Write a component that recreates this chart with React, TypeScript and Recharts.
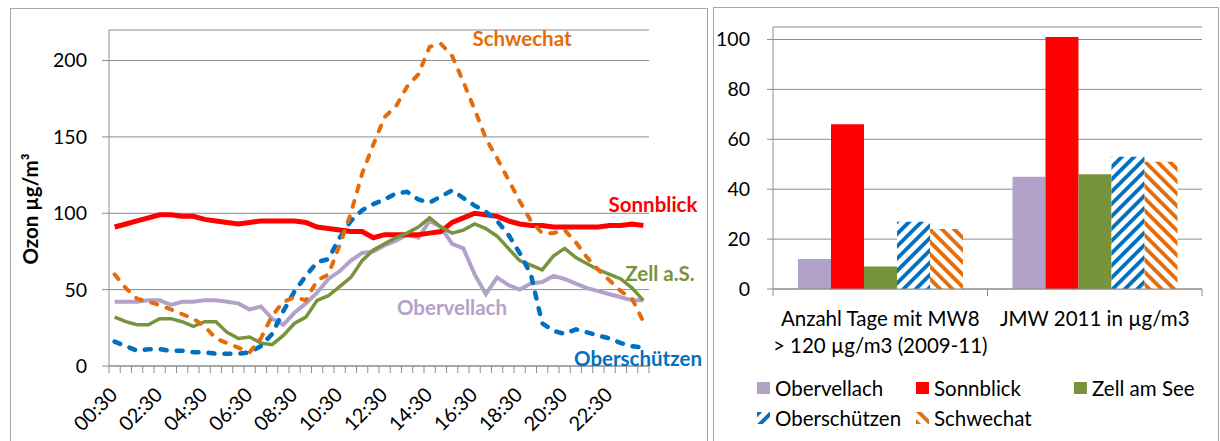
import { Bar, BarChart, CartesianGrid, Line, LineChart, XAxis, YAxis } from 'recharts';

// half-hourly ozone course (left panel)
const times = [
  '00:30', '01:00', '01:30', '02:00', '02:30', '03:00', '03:30', '04:00', '04:30', '05:00', '05:30', '06:00',
  '06:30', '07:00', '07:30', '08:00', '08:30', '09:00', '09:30', '10:00', '10:30', '11:00', '11:30', '12:00',
  '12:30', '13:00', '13:30', '14:00', '14:30', '15:00', '15:30', '16:00', '16:30', '17:00', '17:30', '18:00',
  '18:30', '19:00', '19:30', '20:00', '20:30', '21:00', '21:30', '22:00', '22:30', '23:00', '23:30', '24:00',
];
const obervellach = [
  42, 42, 42, 43, 43, 40, 42, 42, 43, 43, 42, 41,
  37, 39, 31, 27, 35, 41, 48, 57, 62, 69, 74, 75,
  79, 82, 86, 84, 95, 91, 80, 77, 60, 47, 58, 53,
  50, 54, 55, 59, 57, 54, 51, 49, 47, 45, 43, 43,
];
const sonnblick = [
  91, 93, 95, 97, 99, 99, 98, 98, 96, 95, 94, 93,
  94, 95, 95, 95, 95, 94, 91, 90, 89, 88, 88, 84,
  86, 86, 86, 86, 87, 88, 94, 97, 100, 99, 98, 95,
  93, 92, 92, 91, 91, 91, 91, 91, 92, 92, 93, 92,
];
const zell = [
  32, 29, 27, 27, 31, 31, 29, 26, 29, 29, 22, 18,
  19, 15, 14, 20, 28, 32, 43, 46, 52, 58, 69, 76,
  80, 84, 87, 91, 97, 91, 87, 89, 93, 90, 85, 77,
  69, 66, 63, 72, 77, 71, 67, 63, 60, 57, 51, 43,
];
const oberschuetzen = [
  16, 13, 10, 11, 11, 10, 10, 9, 9, 8, 8, 8,
  9, 13, 21, 36, 49, 59, 68, 70, 84, 95, 102, 106,
  109, 113, 114, 109, 107, 111, 115, 110, 105, 101, 95, 86,
  74, 60, 28, 23, 21, 24, 22, 20, 18, 15, 13, 12,
];
const schwechat = [
  60, 51, 44, 42, 40, 37, 34, 31, 26, 18, 15, 12,
  9, 18, 33, 42, 45, 43, 56, 60, 79, 100, 126, 145,
  163, 170, 183, 191, 209, 211, 203, 186, 168, 149, 136, 122,
  108, 95, 87, 87, 89, 81, 71, 63, 56, 49, 44, 29,
];
const ozonTicks = [0, 50, 100, 150, 200];

// comparison bars (right panel)
const barCategories = ['Anzahl Tage mit MW8\n> 120 µg/m3 (2009-11)', 'JMW 2011 in µg/m3'];
const obervellachBars = [12, 45];
const sonnblickBars = [66, 101];
const zellBars = [9, 46];
const oberschuetzenBars = [27, 53];
const schwechatBars = [24, 51];
const barTicks = [0, 20, 40, 60, 80, 100];

const FONT = 'Lato, "Noto Sans", sans-serif';
const GRID = '#8c8c8c';
const FRAME = '#a6a6a6';
const PURPLE = '#b3a2c7';
const RED = '#ff0000';
const GREEN = '#77933c';
const BLUE = '#0070c0';
const ORANGE = '#e46c0a';

const LINE_STEP = 540 / times.length;
const BAR_BAND = 429 / barCategories.length;

const lineData = times.map((time, i) => ({
  time,
  obervellach: obervellach[i],
  sonnblick: sonnblick[i],
  zell: zell[i],
  oberschuetzen: oberschuetzen[i],
  schwechat: schwechat[i],
}));

const barData = barCategories.map((category, i) => ({
  category,
  obervellach: obervellachBars[i],
  sonnblick: sonnblickBars[i],
  zell: zellBars[i],
  oberschuetzen: oberschuetzenBars[i],
  schwechat: schwechatBars[i],
}));

const legendItems = [
  { name: 'Obervellach', fill: PURPLE },
  { name: 'Sonnblick', fill: RED },
  { name: 'Zell am See', fill: GREEN },
  { name: 'Oberschützen', fill: 'url(#hatchBlue)' },
  { name: 'Schwechat', fill: 'url(#hatchOrange)' },
];

const seriesLabels = [
  { text: 'Schwechat', color: ORANGE, x: 522, y: 38 },
  { text: 'Sonnblick', color: RED, x: 653, y: 204 },
  { text: 'Zell a.S.', color: GREEN, x: 660, y: 273 },
  { text: 'Obervellach', color: PURPLE, x: 452, y: 307 },
  { text: 'Oberschützen', color: BLUE, x: 638, y: 358 },
];

function TimeTick(props: any) {
  const { x, y, payload } = props;
  const i = times.indexOf(payload.value);
  const left = x - LINE_STEP / 2;
  const tx = x + 4;
  const ty = y + 30;
  return (
    <g>
      <line x1={left} y1={y} x2={left} y2={y + 7} stroke={GRID} />
      {i === times.length - 1 && (
        <line x1={x + LINE_STEP / 2} y1={y} x2={x + LINE_STEP / 2} y2={y + 7} stroke={GRID} />
      )}
      {i % 4 === 0 && (
        <text
          x={tx}
          y={ty}
          textAnchor="end"
          transform={`rotate(-45 ${tx} ${ty})`}
          fontFamily={FONT}
          fontSize={20}
          fill="#000"
        >
          {payload.value}
        </text>
      )}
    </g>
  );
}

function GroupTick(props: any) {
  const { x, y, payload } = props;
  const i = barCategories.indexOf(payload.value);
  const lines = String(payload.value).split('\n');
  const left = x - BAR_BAND / 2;
  return (
    <g>
      <line x1={left} y1={y} x2={left} y2={y + 7} stroke={GRID} />
      {i === barCategories.length - 1 && (
        <line x1={x + BAR_BAND / 2} y1={y} x2={x + BAR_BAND / 2} y2={y + 7} stroke={GRID} />
      )}
      <text x={x} y={y + 37} textAnchor="middle" fontFamily={FONT} fontSize={20.5} fill="#000">
        {lines.map((line, k) => (
          <tspan key={k} x={x} dy={k === 0 ? 0 : 27}>
            {line}
          </tspan>
        ))}
      </text>
    </g>
  );
}

function OzonTitle() {
  return (
    <text
      x={38}
      y={209}
      transform="rotate(-90 38 209)"
      textAnchor="middle"
      fontFamily={FONT}
      fontWeight={700}
      fontSize={20.5}
      fill="#000"
    >
      Ozon µg/m³
    </text>
  );
}

export default function App() {
  return (
    <div
      style={{
        position: 'absolute',
        left: 0,
        top: 0,
        width: 1220,
        height: 441,
        background: '#fff',
        overflow: 'hidden',
        fontFamily: FONT,
      }}
    >
      <div style={{ position: 'absolute', left: 10, top: 8, width: 696, height: 460, border: `1px solid ${FRAME}` }} />
      <div style={{ position: 'absolute', left: 713, top: 7, width: 504, height: 460, border: `1px solid ${FRAME}` }} />

      <div style={{ position: 'absolute', left: 0, top: 0 }}>
        <LineChart width={710} height={441} data={lineData} margin={{ top: 30, right: 61, bottom: 0, left: 0 }}>
          <CartesianGrid vertical={false} stroke={GRID} />
          <XAxis
            dataKey="time"
            height={75}
            interval={0}
            padding={{ left: LINE_STEP / 2, right: LINE_STEP / 2 }}
            axisLine={{ stroke: GRID }}
            tickLine={false}
            tickSize={0}
            tickMargin={0}
            tick={<TimeTick />}
          />
          <YAxis
            width={109}
            domain={[0, 220]}
            ticks={ozonTicks}
            axisLine={{ stroke: GRID }}
            tickLine={{ stroke: GRID }}
            tickSize={7}
            tickMargin={15}
            tick={{ fill: '#000', fontSize: 19.5, fontFamily: FONT }}
            label={<OzonTitle />}
          />
          <Line dataKey="obervellach" stroke={PURPLE} strokeWidth={4} dot={false} activeDot={false} isAnimationActive={false} />
          <Line dataKey="sonnblick" stroke={RED} strokeWidth={5} dot={false} activeDot={false} isAnimationActive={false} />
          <Line dataKey="zell" stroke={GREEN} strokeWidth={3.5} dot={false} activeDot={false} isAnimationActive={false} />
          <Line
            dataKey="oberschuetzen"
            stroke={BLUE}
            strokeWidth={4.5}
            strokeDasharray="6 10"
            strokeLinecap="round"
            dot={false}
            activeDot={false}
            isAnimationActive={false}
          />
          <Line
            dataKey="schwechat"
            stroke={ORANGE}
            strokeWidth={4}
            strokeDasharray="6 10"
            strokeLinecap="round"
            dot={false}
            activeDot={false}
            isAnimationActive={false}
          />
        </LineChart>
      </div>

      {seriesLabels.map((l) => (
        <div
          key={l.text}
          style={{
            position: 'absolute',
            left: l.x,
            top: l.y,
            transform: 'translate(-50%, -50%)',
            color: l.color,
            fontWeight: 700,
            fontSize: 20.5,
            lineHeight: 1,
            whiteSpace: 'nowrap',
          }}
        >
          {l.text}
        </div>
      ))}

      <div style={{ position: 'absolute', left: 710, top: 0 }}>
        <BarChart
          width={510}
          height={441}
          data={barData}
          margin={{ top: 27, right: 18, bottom: 0, left: 0 }}
          barCategoryGap={25}
          barGap={0}
        >
          <defs>
            <pattern id="hatchBlue" patternUnits="userSpaceOnUse" width={8.7} height={8.7} patternTransform="rotate(45)">
              <rect width={8.7} height={8.7} fill="#fff" />
              <rect width={3.8} height={8.7} fill={BLUE} />
            </pattern>
            <pattern id="hatchOrange" patternUnits="userSpaceOnUse" width={8.7} height={8.7} patternTransform="rotate(-45)">
              <rect width={8.7} height={8.7} fill="#fff" />
              <rect width={3.8} height={8.7} fill={ORANGE} />
            </pattern>
          </defs>
          <CartesianGrid vertical={false} stroke={GRID} />
          <XAxis
            dataKey="category"
            height={152}
            interval={0}
            axisLine={{ stroke: GRID }}
            tickLine={false}
            tickSize={0}
            tickMargin={0}
            tick={<GroupTick />}
          />
          <YAxis
            width={63}
            domain={[0, 105]}
            ticks={barTicks}
            axisLine={{ stroke: GRID }}
            tickLine={{ stroke: GRID }}
            tickSize={6}
            tickMargin={17}
            tick={{ fill: '#000', fontSize: 19.5, fontFamily: FONT }}
          />
          <Bar dataKey="obervellach" name="Obervellach" fill={PURPLE} isAnimationActive={false} />
          <Bar dataKey="sonnblick" name="Sonnblick" fill={RED} isAnimationActive={false} />
          <Bar dataKey="zell" name="Zell am See" fill={GREEN} isAnimationActive={false} />
          <Bar dataKey="oberschuetzen" name="Oberschützen" fill="url(#hatchBlue)" isAnimationActive={false} />
          <Bar dataKey="schwechat" name="Schwechat" fill="url(#hatchOrange)" isAnimationActive={false} />
        </BarChart>
      </div>

      <div
        style={{
          position: 'absolute',
          left: 757,
          top: 373,
          display: 'grid',
          gridTemplateColumns: '159px 158px 150px',
          gridAutoRows: '30px',
          fontSize: 20.5,
          color: '#000',
        }}
      >
        {legendItems.map((item) => (
          <div key={item.name} style={{ display: 'flex', alignItems: 'center', gap: 5 }}>
            <svg width={13} height={12}>
              <rect width={13} height={12} fill={item.fill} />
            </svg>
            <span>{item.name}</span>
          </div>
        ))}
      </div>
    </div>
  );
}
